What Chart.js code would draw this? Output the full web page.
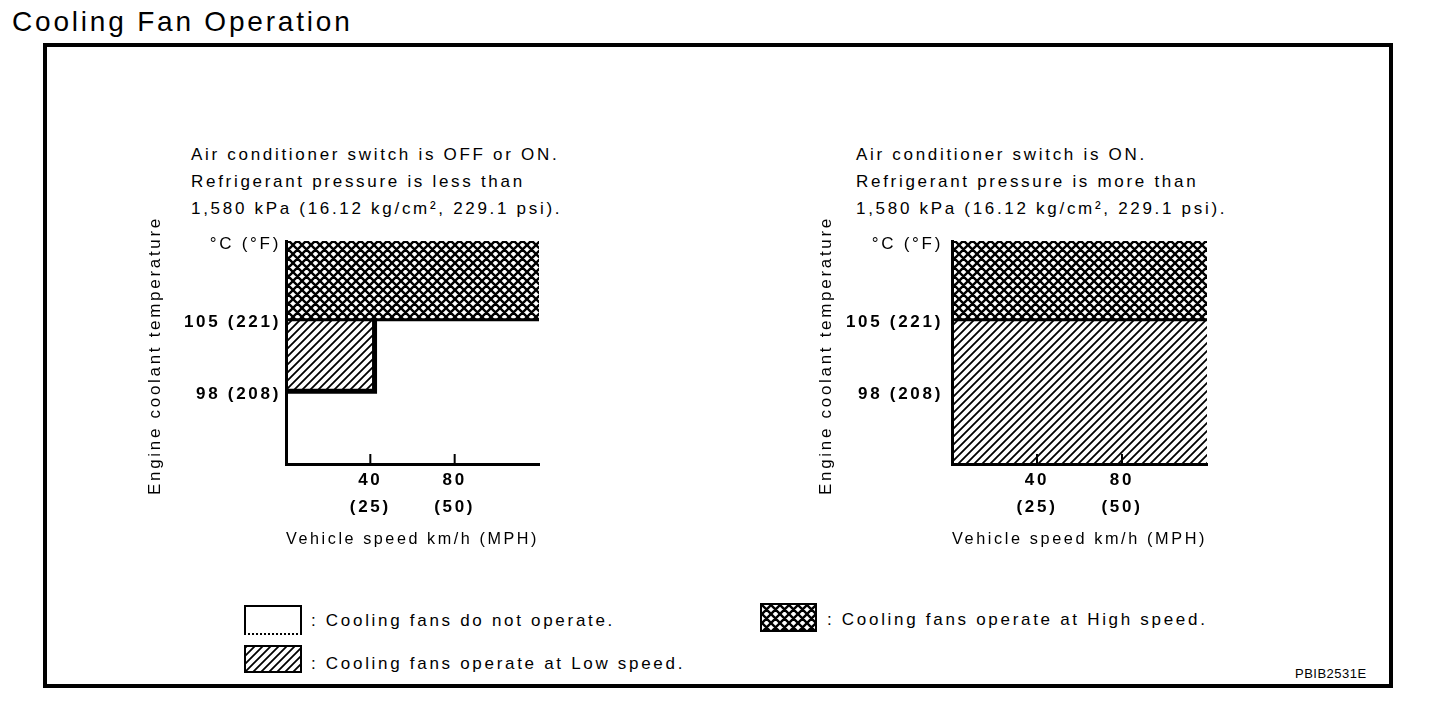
<!DOCTYPE html>
<html>
<head>
<meta charset="utf-8">
<script src="https://cdn.jsdelivr.net/npm/chart.js@4.4.1/dist/chart.umd.min.js"></script>
<style>
  body { margin: 0; background: #fff; width: 1440px; height: 704px; position: relative; overflow: hidden;
         font-family: "Liberation Sans", Arial, sans-serif; color: #000; }
  .abs { position: absolute; }
  #pageTitle { left: 12px; top: 6px; font-size: 28px; line-height: 32px; letter-spacing: 2.8px; white-space: nowrap; }
  #frame { left: 43px; top: 43px; width: 1342px; height: 637px; border: 4px solid #000; }
  .txt { font-size: 17px; line-height: 27px; letter-spacing: 2.7px; white-space: nowrap; }
  #code { left: 1295px; top: 666px; font-size: 13px; line-height: 16px; letter-spacing: 0.5px; }
  .swatch { border: 2px solid #000; }
</style>
</head>
<body>
<div id="pageTitle" class="abs">Cooling Fan Operation</div>
<div id="frame" class="abs"></div>

<div id="condLeft" class="abs txt" style="left:191px; top:141px;"></div>
<div id="condRight" class="abs txt" style="left:856px; top:141px;"></div>

<canvas id="leftChart" class="abs" style="left:140px; top:200px;" width="420" height="360"></canvas>
<canvas id="rightChart" class="abs" style="left:806px; top:200px;" width="422" height="360"></canvas>

<div class="abs swatch" style="left:244px; top:605px; width:54px; height:26px; border-bottom-style:dotted;"></div>
<canvas id="swLow" class="abs swatch" style="left:244px; top:645px;" width="54" height="24"></canvas>
<canvas id="swHigh" class="abs swatch" style="left:760px; top:603px;" width="53" height="25"></canvas>
<div id="legOff" class="abs txt" style="left:311px; top:607px;"></div>
<div id="legLow" class="abs txt" style="left:311px; top:650px;"></div>
<div id="legHigh" class="abs txt" style="left:827px; top:606px;"></div>
<div id="code" class="abs">PBIB2531E</div>

<script>
const FONT = '"Liberation Sans", Arial, sans-serif';
const SPACING = '2.7px';

// axis values
const tempTicksC = [98, 105];
const tempTicksF = [208, 221];
const tempRange = [90.9, 112.7];
const speedTicksKmh = [40, 80];
const speedTicksMph = [25, 50];
const speedRange = [0, 120];

// zones: [speed from, speed to, temp from, temp to]
const leftLowZone = [0, 42, 98, 105];
const leftHighZone = [0, 120, 105, 112.7];
const rightLowZone = [0, 120, 90.9, 105];
const rightHighZone = [0, 120, 105, 112.7];

// outlines: [speed, temp] points
const leftLowEdge = [[0, 98], [42, 98], [42, 105]];
const highBoundary = [[0, 105], [120, 105]];

const conditionsLeft = ['Air conditioner switch is OFF or ON.', 'Refrigerant pressure is less than', '1,580 kPa (16.12 kg/cm², 229.1 psi).'];
const conditionsRight = ['Air conditioner switch is ON.', 'Refrigerant pressure is more than', '1,580 kPa (16.12 kg/cm², 229.1 psi).'];
const legendLabels = [': Cooling fans do not operate.', ': Cooling fans operate at Low speed.', ': Cooling fans operate at High speed.'];

document.getElementById('condLeft').innerHTML = conditionsLeft.join('<br>');
document.getElementById('condRight').innerHTML = conditionsRight.join('<br>');
document.getElementById('legOff').textContent = legendLabels[0];
document.getElementById('legLow').textContent = legendLabels[1];
document.getElementById('legHigh').textContent = legendLabels[2];

// hatch tiles
function makeHatch(cross) {
  const p = cross ? 9 : 8;
  const c = document.createElement('canvas');
  c.width = p; c.height = p;
  const g = c.getContext('2d');
  g.strokeStyle = '#000';
  g.lineWidth = cross ? 2.4 : 1.8;
  g.beginPath();
  for (let k = -1; k <= 1; k++) {
    g.moveTo(k * p - 1, p + 1); g.lineTo(k * p + p + 1, -1);
    if (cross) { g.moveTo(k * p - 1, -1); g.lineTo(k * p + p + 1, p + 1); }
  }
  g.stroke();
  return g.createPattern(c, 'repeat');
}
const lowHatch = makeHatch(false);
const highHatch = makeHatch(true);

function fillSwatch(id, pattern) {
  const cv = document.getElementById(id);
  const g = cv.getContext('2d');
  g.fillStyle = pattern;
  g.fillRect(0, 0, cv.width, cv.height);
}
fillSwatch('swLow', lowHatch);
fillSwatch('swHigh', highHatch);

// the drawing has widely spaced lettering
const spacing = {
  id: 'spacing',
  beforeUpdate(chart) { chart.ctx.letterSpacing = SPACING; },
  beforeDraw(chart) { chart.ctx.letterSpacing = SPACING; }
};

// short tick marks pointing into the plot
const innerTicks = {
  id: 'innerTicks',
  afterDatasetsDraw(chart) {
    const {ctx, scales: {x, y}} = chart;
    ctx.save();
    ctx.strokeStyle = '#000';
    ctx.lineWidth = 2;
    x.ticks.forEach(t => {
      const px = x.getPixelForValue(t.value);
      ctx.beginPath();
      ctx.moveTo(px, y.bottom);
      ctx.lineTo(px, y.bottom - 10);
      ctx.stroke();
    });
    ctx.restore();
  }
};

// y title is longer than the plot, so it is drawn here without squeezing
const yTitle = {
  id: 'yTitle',
  afterDraw(chart, args, opts) {
    const {ctx, chartArea} = chart;
    ctx.save();
    ctx.letterSpacing = SPACING;
    ctx.fillStyle = '#000';
    ctx.font = '17px ' + FONT;
    ctx.textAlign = 'center';
    ctx.textBaseline = 'middle';
    ctx.translate(opts.x, (chartArea.top + chartArea.bottom) / 2 + 3);
    ctx.rotate(-Math.PI / 2);
    ctx.fillText(opts.text, 0, 0);
    ctx.restore();
  }
};

function zoneDataset(zone, pattern) {
  const [x0, x1, y0, y1] = zone;
  return {
    type: 'line',
    data: [{x: x0, y: y1}, {x: x1, y: y1}],
    fill: {value: y0},
    backgroundColor: pattern,
    borderColor: 'rgba(0,0,0,0)',
    borderWidth: 0,
    pointRadius: 0,
    order: 2
  };
}

function edgeDataset(points, width) {
  return {
    type: 'line',
    data: points.map(([x, y]) => ({x, y})),
    borderColor: '#000',
    borderWidth: width,
    borderJoinStyle: 'miter',
    pointRadius: 0,
    fill: false,
    order: 0
  };
}

function makeChart(id, datasets, tickPad, titleX) {
  return new Chart(document.getElementById(id), {
    type: 'line',
    data: {datasets},
    plugins: [spacing, innerTicks, yTitle],
    options: {
      responsive: false,
      animation: false,
      layout: {autoPadding: false, padding: {top: 41, right: 21, left: 0, bottom: 0}},
      plugins: {
        legend: {display: false},
        tooltip: {enabled: false},
        yTitle: {text: 'Engine coolant temperature', x: titleX}
      },
      scales: {
        x: {
          type: 'linear',
          min: speedRange[0],
          max: speedRange[1],
          z: 1,
          afterBuildTicks: s => { s.ticks = speedTicksKmh.map(v => ({value: v})); },
          afterFit: s => { s.height = 96; s.paddingLeft = 0; s.paddingRight = 0; },
          grid: {display: false, drawTicks: false},
          border: {display: true, color: '#000', width: 3},
          ticks: {
            padding: 3,
            color: '#000',
            autoSkip: false,
            maxRotation: 0,
            font: {family: FONT, size: 17, weight: 'bold', lineHeight: 1.6},
            callback: (v, i) => [String(v), '(' + speedTicksMph[i] + ')']
          },
          title: {
            display: true,
            text: 'Vehicle speed km/h (MPH)',
            color: '#000',
            font: {family: FONT, size: 17, lineHeight: 1.2},
            padding: {top: 0, bottom: 10}
          }
        },
        y: {
          type: 'linear',
          min: tempRange[0],
          max: tempRange[1],
          z: 1,
          afterBuildTicks: s => { s.ticks = [...tempTicksC, tempRange[1]].map(v => ({value: v})); },
          afterFit: s => { s.width = 146; s.paddingTop = 0; s.paddingBottom = 0; },
          grid: {display: false, drawTicks: false},
          border: {display: true, color: '#000', width: 3},
          ticks: {
            padding: tickPad,
            labelOffset: 3,
            color: '#000',
            autoSkip: false,
            font: ctx => ({family: FONT, size: 17, weight: ctx.tick && ctx.tick.value === tempRange[1] ? 'normal' : 'bold'}),
            callback: (v, i) => v === tempRange[1] ? '°C (°F)' : v + ' (' + tempTicksF[i] + ')'
          },
          title: {display: false}
        }
      }
    }
  });
}

makeChart('leftChart', [
  edgeDataset(leftLowEdge, 5),
  edgeDataset(highBoundary, 3),
  zoneDataset(leftLowZone, lowHatch),
  zoneDataset(leftHighZone, highHatch)
], 5, 15);

makeChart('rightChart', [
  edgeDataset(highBoundary, 3),
  zoneDataset(rightLowZone, lowHatch),
  zoneDataset(rightHighZone, highHatch)
], 9, 20);
</script>
</body>
</html>
